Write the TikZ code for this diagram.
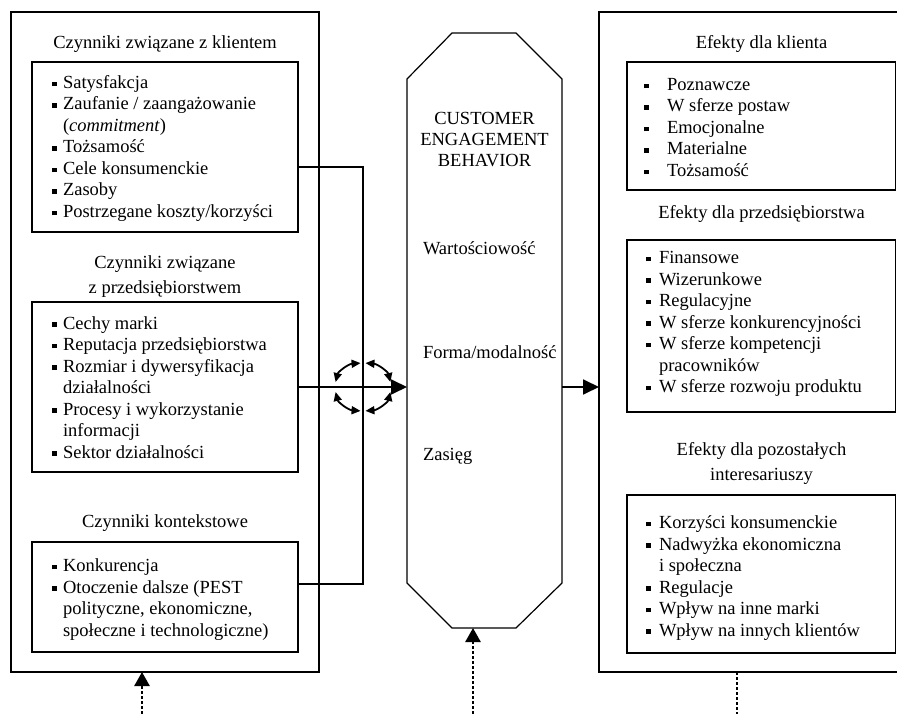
\documentclass[tikz,border=0pt]{standalone}
\usepackage{fontspec}
\setmainfont{Liberation Serif}
\usetikzlibrary{arrows.meta}
% square bullet in a box of given width, and the matching indent for wrapped lines
\newcommand\bl[1]{\makebox[#1][l]{\rule[2.2pt]{4.5pt}{4.5pt}}}
\newcommand\cn[1]{\hspace*{#1}}
\newcommand\lstrut{\rule{0pt}{15pt}}

\begin{document}
\begin{tikzpicture}[x=1pt,y=-1pt,
  every node/.style={font=\fontsize{18.5}{21.5}\selectfont, inner sep=0pt, outer sep=0pt},
  frame/.style={draw, line width=1.2pt, rectangle, anchor=north west},
  ghost/.style={rectangle, anchor=north west},
  ttl/.style={anchor=north, align=center},
  lst/.style={anchor=north west, align=left},
  link/.style={line width=1.2pt},
  mainarr/.style={line width=1.8pt, -{Triangle[length=16pt,width=15pt]}},
  cyc/.style={line width=1.8pt, {Triangle[length=9pt,width=8pt]}-{Triangle[length=9pt,width=8pt]}},
  dotarr/.style={line width=2.6pt, dash pattern=on 2.6pt off 2.4pt, -{Triangle[length=14pt,width=15pt]}},
  dotln/.style={line width=2.6pt, dash pattern=on 2.6pt off 2.4pt}
]
\useasboundingbox (0,0) rectangle (897,714);

% ---------- left column: antecedents ----------
\node[frame, minimum width=308pt, minimum height=660pt] (L) at (11,12) {};
\node[frame, minimum width=266pt, minimum height=170pt] (k1) at (32,62) {};
\node[frame, minimum width=266pt, minimum height=170pt] (k2) at (32,302) {};
\node[frame, minimum width=266pt, minimum height=110pt] (k3) at (32,542) {};

\node[ttl] (t1) at (165,33.5) {\lstrut Czynniki związane z klientem};
\node[ttl, font=\fontsize{18.5}{25}\selectfont] (t2) at (165,253.5) {\lstrut Czynniki związane\\z przedsiębiorstwem};
\node[ttl] (t3) at (165,512.5) {\lstrut Czynniki kontekstowe};

\node[lst] (l1) at (52,73.5) {\lstrut\bl{11pt}Satysfakcja\\
  \bl{11pt}Zaufanie / zaangażowanie\\
  \cn{11pt}(\textit{commitment})\\
  \bl{11pt}Tożsamość\\
  \bl{11pt}Cele konsumenckie\\
  \bl{11pt}Zasoby\\
  \bl{11pt}Postrzegane koszty/korzyści};
\node[lst] (l2) at (52,314) {\lstrut\bl{11pt}Cechy marki\\
  \bl{11pt}Reputacja przedsiębiorstwa\\
  \bl{11pt}Rozmiar i dywersyfikacja\\
  \cn{11pt}działalności\\
  \bl{11pt}Procesy i wykorzystanie\\
  \cn{11pt}informacji\\
  \bl{11pt}Sektor działalności};
\node[lst] (l3) at (52,556.5) {\lstrut\bl{11pt}Konkurencja\\
  \bl{11pt}Otoczenie dalsze (PEST\\
  \cn{11pt}polityczne, ekonomiczne,\\
  \cn{11pt}społeczne i technologiczne)};

% ---------- centre: engagement behaviour ----------
\node[ghost, minimum width=155pt, minimum height=595pt] (oct) at (407,33) {};
\draw[link] ([yshift=-46pt]oct.north west) -- ([xshift=45pt]oct.north west)
  -- ([xshift=-46pt]oct.north east) -- ([yshift=-46pt]oct.north east)
  -- ([yshift=45pt]oct.south east) -- ([xshift=-46pt]oct.south east)
  -- ([xshift=45pt]oct.south west) -- ([yshift=45pt]oct.south west) -- cycle;

\node[ttl, font=\fontsize{18.5}{21}\selectfont] (ceb) at (484.5,109.5) {\lstrut CUSTOMER\\ENGAGEMENT\\BEHAVIOR};
\node[lst] (w1) at (423,239.5) {\lstrut Wartościowość};
\node[lst] (w2) at (423,343.5) {\lstrut Forma/modalność};
\node[lst] (w3) at (423,445.5) {\lstrut Zasięg};

% ---------- right column: outcomes ----------
\node[frame, minimum width=325pt, minimum height=660pt] (R) at (599,12) {};
\node[frame, minimum width=268.5pt, minimum height=128pt] (e1) at (627,62) {};
\node[frame, minimum width=268.5pt, minimum height=172pt] (e2) at (627,240) {};
\node[frame, minimum width=268.5pt, minimum height=158pt] (e3) at (627,495) {};

\node[ttl] (r1) at (761.5,33.5) {\lstrut Efekty dla klienta};
\node[ttl] (r2) at (761.5,203.5) {\lstrut Efekty dla przedsiębiorstwa};
\node[ttl, font=\fontsize{18.5}{25}\selectfont] (r3) at (761.5,440.5) {\lstrut Efekty dla pozostałych\\interesariuszy};

\node[lst] (m1) at (644,75.5) {\lstrut\bl{23pt}Poznawcze\\
  \bl{23pt}W sferze postaw\\
  \bl{23pt}Emocjonalne\\
  \bl{23pt}Materialne\\
  \bl{23pt}Tożsamość};
\node[lst] (m2) at (646,248.5) {\lstrut\bl{13pt}Finansowe\\
  \bl{13pt}Wizerunkowe\\
  \bl{13pt}Regulacyjne\\
  \bl{13pt}W sferze konkurencyjności\\
  \bl{13pt}W sferze kompetencji\\
  \cn{13pt}pracowników\\
  \bl{13pt}W sferze rozwoju produktu};
\node[lst] (m3) at (646,513.5) {\lstrut\bl{13pt}Korzyści konsumenckie\\
  \bl{13pt}Nadwyżka ekonomiczna\\
  \cn{13pt}i społeczna\\
  \bl{13pt}Regulacje\\
  \bl{13pt}Wpływ na inne marki\\
  \bl{13pt}Wpływ na innych klientów};

% ---------- connectors ----------
\coordinate (j) at (363,387);
\draw[link] ([yshift=-20pt]k1.east) -| (j) |- ([yshift=13pt]k3.east);
\draw[mainarr] (k2.east) -- (k2.east -| oct.west);
\draw[mainarr] (k2.east -| oct.east) -- (k2.east -| R.west);
% ring of four two-headed arcs round the junction (y axis pointing up here)
\begin{scope}[shift={(j)}, x=1pt, y=1pt]
  \foreach \s/\e in {12/85, 95/168, 192/265, 275/348}
    \draw[cyc] (\s:28 and 24) arc[start angle=\s, end angle=\e, x radius=28, y radius=24];
\end{scope}

\coordinate (b1) at (142,714);
\coordinate (b2) at (473,714);
\coordinate (b3) at (737,714);
\draw[dotarr] (b1) -- (b1 |- L.south);
\draw[dotarr] (b2) -- (b2 |- oct.south);
\draw[dotln] (b3 |- R.south) -- (b3);
\end{tikzpicture}
\end{document}
